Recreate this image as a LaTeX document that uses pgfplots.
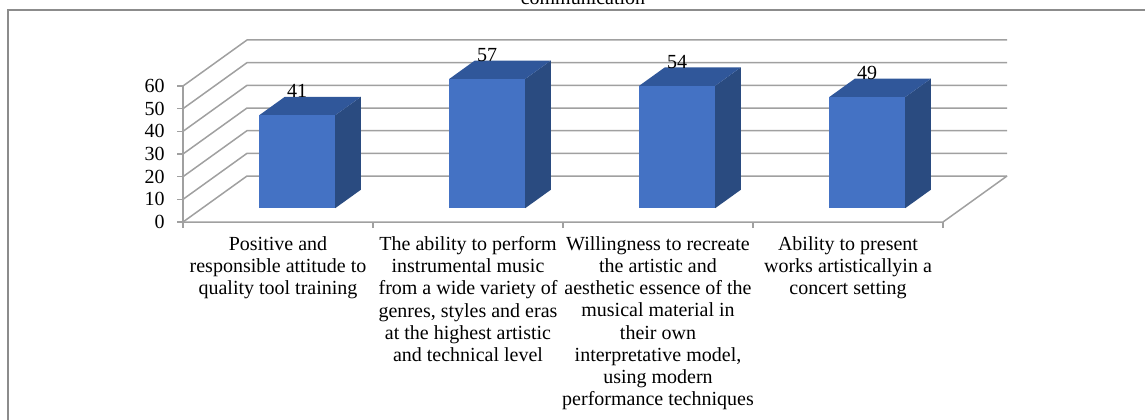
\documentclass[border=0pt]{standalone}
\usepackage{pgfplots}
\pgfplotsset{compat=1.18}
\usepackage{pgfplotstable}
\usepackage{fontspec}
\setmainfont{Liberation Serif}
\newlength\px \setlength\px{0.5pt}
\definecolor{barfront}{HTML}{4472C4}
\definecolor{bartop}{HTML}{30579A}
\definecolor{barside}{HTML}{2A4B80}
\definecolor{gl}{HTML}{A0A0A0}
\definecolor{fr}{HTML}{8C8C8C}

\pgfplotstableread{
i v
0 41
1 57
2 54
3 49
}\bars

\begin{document}
\fontsize{10pt}{11.1pt}\selectfont
\begin{tikzpicture}[x=\px,y=\px]
\useasboundingbox (0,0) rectangle (1145,419);
\clip (0,0) rectangle (1145,419);
\draw[fr, line width=1.3\px] (8,-5) -- (8,409) -- (1150,409);
\node[anchor=base, inner sep=0pt] at (583,415) {communication};
\begin{axis}[
  at={(183\px,197\px)}, anchor=south west,
  scale only axis, width=760\px, height=182\px,
  xmin=-0.5, xmax=3.5, ymin=0, ymax=80.29,
  clip=false,
  axis line style={draw=none},
  xtick={-0.5,0.5,1.5,2.5,3.5},
  x tick label as interval,
  xticklabels={
    {Positive and\\responsible attitude to\\quality tool training},
    {The ability to perform\\instrumental music\\from a wide variety of\\genres, styles and eras\\at the highest artistic\\and technical level},
    {Willingness to recreate\\the artistic and\\aesthetic essence of the\\musical material in\\their own\\interpretative model,\\using modern\\performance techniques},
    {Ability to present\\works artisticallyin a\\concert setting}},
  ytick={0,10,...,60},
  tick align=outside, major tick length=6\px,
  tick style={gl, line width=1.5\px},
  xtick pos=bottom, ytick pos=left,
  /pgf/number format/assume math mode=true,
  ticklabel style={font=\fontsize{10pt}{11.1pt}\selectfont},
  xticklabel style={align=center, anchor=north, inner sep=0pt, yshift=-8\px},
  yticklabel style={anchor=east, inner sep=0pt, xshift=-12\px},
]
% left wall and floor
\addplot[gl, line width=1.5\px] coordinates {(-0.5,0) (-0.5,60)};
\addplot[gl, line width=1.5\px] coordinates {(-0.5,0) (3.5,0) (3.8368,20.29)};
\pgfplotsinvokeforeach{0,10,20,30,40,50,60}{
  \pgfmathsetmacro\yy{#1+20.29}
  \addplot[gl, line width=1.5\px] coordinates {(-0.5,#1) (-0.1632,\yy) (3.8368,\yy)};
}
% 3D bars
\pgfplotsinvokeforeach{0,1,2,3}{
  \pgfplotstablegetelem{#1}{v}\of\bars
  \pgfmathsetmacro\yt{\pgfplotsretval+6.09}
  \pgfmathsetmacro\ytb{\yt+8.12}
  \pgfmathsetmacro\xl{#1+0.101-0.2}
  \pgfmathsetmacro\xr{#1+0.101+0.2}
  \pgfmathsetmacro\xlb{\xl+0.1347}
  \pgfmathsetmacro\xrb{\xr+0.1347}
  \addplot[fill=barside, draw=none] coordinates {(\xr,6.09) (\xrb,14.21) (\xrb,\ytb) (\xr,\yt)} --cycle;
  \addplot[fill=bartop, draw=none] coordinates {(\xl,\yt) (\xr,\yt) (\xrb,\ytb) (\xlb,\ytb)} --cycle;
  \addplot[fill=barfront, draw=none] coordinates {(\xl,6.09) (\xr,6.09) (\xr,\yt) (\xl,\yt)} --cycle;
}
% value labels
\addplot[draw=none, nodes near coords, point meta=explicit,
  nodes near coords style={anchor=south, inner sep=0pt, yshift=17\px, font=\fontsize{10pt}{11.1pt}\selectfont}]
  table[x expr=\thisrow{i}+0.101, y expr=\thisrow{v}+6.09, meta=v] {\bars};
\end{axis}
\end{tikzpicture}
\end{document}
